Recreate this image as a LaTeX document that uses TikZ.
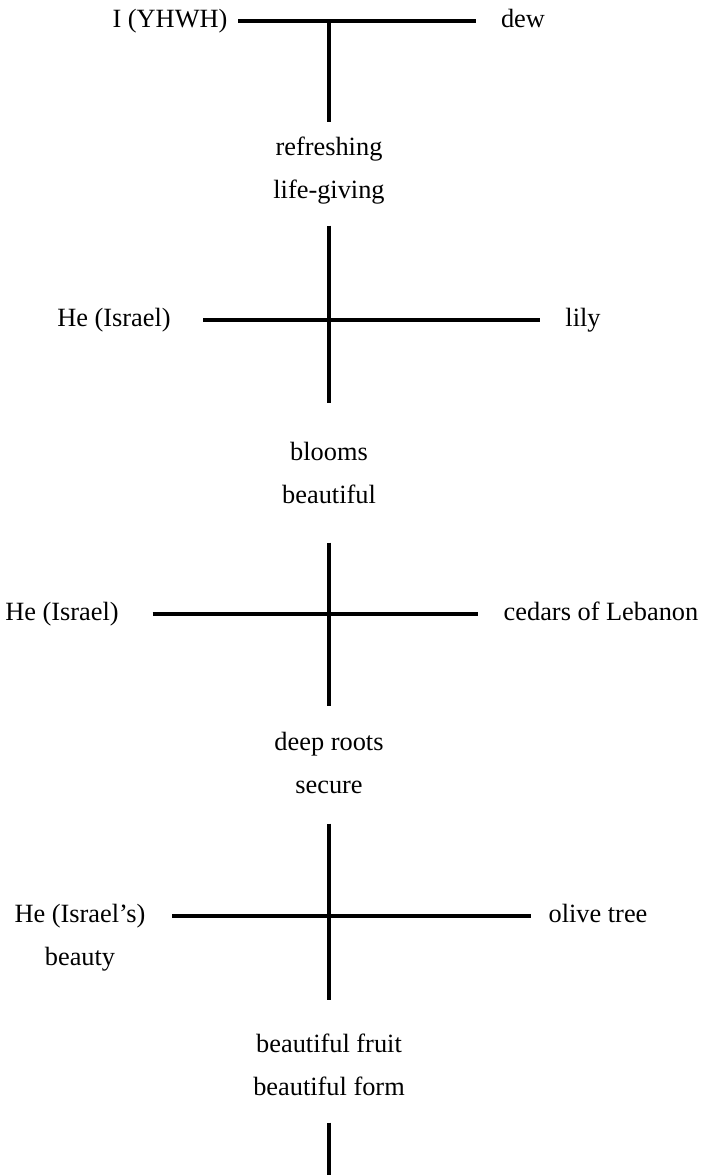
\documentclass[tikz,border=0pt]{standalone}
\usepackage{fontspec}
\setmainfont{Liberation Serif}
\usetikzlibrary{positioning}

\tikzset{
  word/.style={inner sep=0pt, text height=10.8pt, text depth=3.3pt, font=\fontsize{15}{18}\selectfont},
  bar/.style={line width=1.8pt},
}

\begin{document}
\begin{tikzpicture}[x=0.02cm, y=-0.02cm]
  \useasboundingbox (0,0) rectangle (703,1175);
  % I -- dew
  \node [word] at (170,21) (yhwh) {I (YHWH)};
  \node [word] at (523,21) (dew) {dew};
  \coordinate (c1) at (329,20);
  \node [word] at (329,149) (refresh) {refreshing};
  \node [word, below=0.34cm of refresh] (lifegiving) {life-giving};
  \draw [bar, shorten <=0.21cm, shorten >=0.5cm] (yhwh) -- (dew);
  \draw [bar, shorten >=0.29cm] (c1) -- (refresh);
  % he -- lily
  \node [word] at (114,320) (israelA) {He (Israel)};
  \node [word] at (583,320) (lily) {lily};
  \node [word] at (329,454) (blooms) {blooms};
  \node [word, below=0.34cm of blooms] (beautiful) {beautiful};
  \draw [bar, shorten <=0.64cm, shorten >=0.51cm] (israelA) -- (lily);
  \draw [bar, shorten <=0.43cm, shorten >=0.77cm] (lifegiving) -- (blooms);
  % he -- cedars
  \node [word] at (62,614) (israelB) {He (Israel)};
  \node [word] at (601,614) (cedars) {cedars of Lebanon};
  \node [word] at (329,744) (roots) {deep roots};
  \node [word, below=0.34cm of roots] (secure) {secure};
  \draw [bar, shorten <=0.67cm, shorten >=0.51cm] (israelB) -- (cedars);
  \draw [bar, shorten <=0.67cm, shorten >=0.51cm] (beautiful) -- (roots);
  % he -- olive tree
  \node [word] at (80,916) (israelC) {He (Israel’s)};
  \node [word, below=0.34cm of israelC] (beauty) {beauty};
  \node [word] at (598,916) (olive) {olive tree};
  \node [word] at (329,1046) (fruit) {beautiful fruit};
  \node [word, below=0.34cm of fruit] (form) {beautiful form};
  \draw [bar, shorten <=0.53cm, shorten >=0.35cm] (israelC) -- (olive);
  \draw [bar, shorten <=0.49cm, shorten >=0.67cm] (secure) -- (fruit);
  \coordinate (tail) at (329,1175);
  \draw [bar, shorten <=0.43cm] (form) -- (tail);
\end{tikzpicture}
\end{document}
